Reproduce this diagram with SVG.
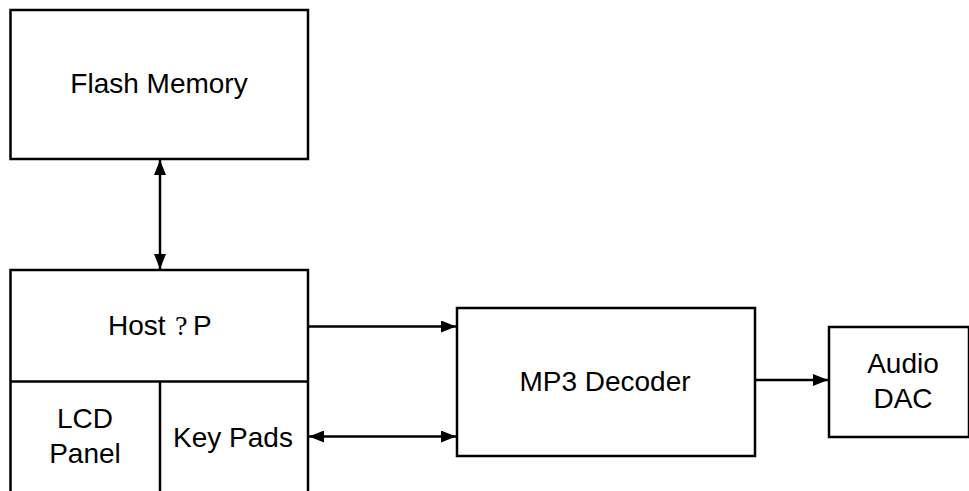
<svg xmlns="http://www.w3.org/2000/svg" width="969" height="491" viewBox="0 0 969 491">
<style>
.box{fill:#fff;stroke:#000;stroke-width:2.5}
.t{font-family:"Liberation Sans",Arial,sans-serif;font-size:28px;fill:#000;text-anchor:middle}
.c{fill:none;stroke:#000;stroke-width:2.5}
</style>
<defs>
<marker id="ah" viewBox="0 0 15 12" refX="15" refY="6" markerWidth="15" markerHeight="12" markerUnits="userSpaceOnUse" orient="auto-start-reverse">
<path d="M0,0 L15,6 L0,12 z" fill="#000"/>
</marker>
</defs>
<rect width="969" height="491" fill="#fff"/>
<g id="flash">
<rect class="box" x="10.5" y="10" width="297.5" height="149"/>
<text class="t" x="159" y="93">Flash Memory</text>
</g>
<g id="host">
<rect class="box" x="10.5" y="270" width="297.5" height="240"/>
<line class="c" x1="10.5" y1="381.5" x2="308" y2="381.5"/>
<line class="c" x1="160" y1="381.5" x2="160" y2="510"/>
<text class="t" x="108" y="335" style="text-anchor:start">Host</text>
<text x="175" y="335" style="font-family:'Liberation Serif',serif;font-size:28px;fill:#000">?</text>
<text class="t" x="193" y="335" style="text-anchor:start">P</text>
</g>
<g id="lcd">
<text class="t" x="85" y="428">LCD</text>
<text class="t" x="85" y="463">Panel</text>
</g>
<g id="keypads">
<text class="t" x="233" y="447">Key Pads</text>
</g>
<g id="mp3">
<rect class="box" x="457" y="308" width="298" height="148"/>
<text class="t" x="605" y="391">MP3 Decoder</text>
</g>
<g id="dac">
<rect class="box" x="829" y="327" width="140" height="110"/>
<text class="t" x="903" y="373">Audio</text>
<text class="t" x="903" y="408">DAC</text>
</g>
<g id="connectors">
<line class="c" x1="160" y1="160" x2="160" y2="269" marker-start="url(#ah)" marker-end="url(#ah)"/>
<line class="c" x1="308" y1="326.5" x2="456" y2="326.5" marker-end="url(#ah)"/>
<line class="c" x1="309" y1="436.5" x2="456" y2="436.5" marker-start="url(#ah)" marker-end="url(#ah)"/>
<line class="c" x1="755" y1="380" x2="828" y2="380" marker-end="url(#ah)"/>
</g>
</svg>
